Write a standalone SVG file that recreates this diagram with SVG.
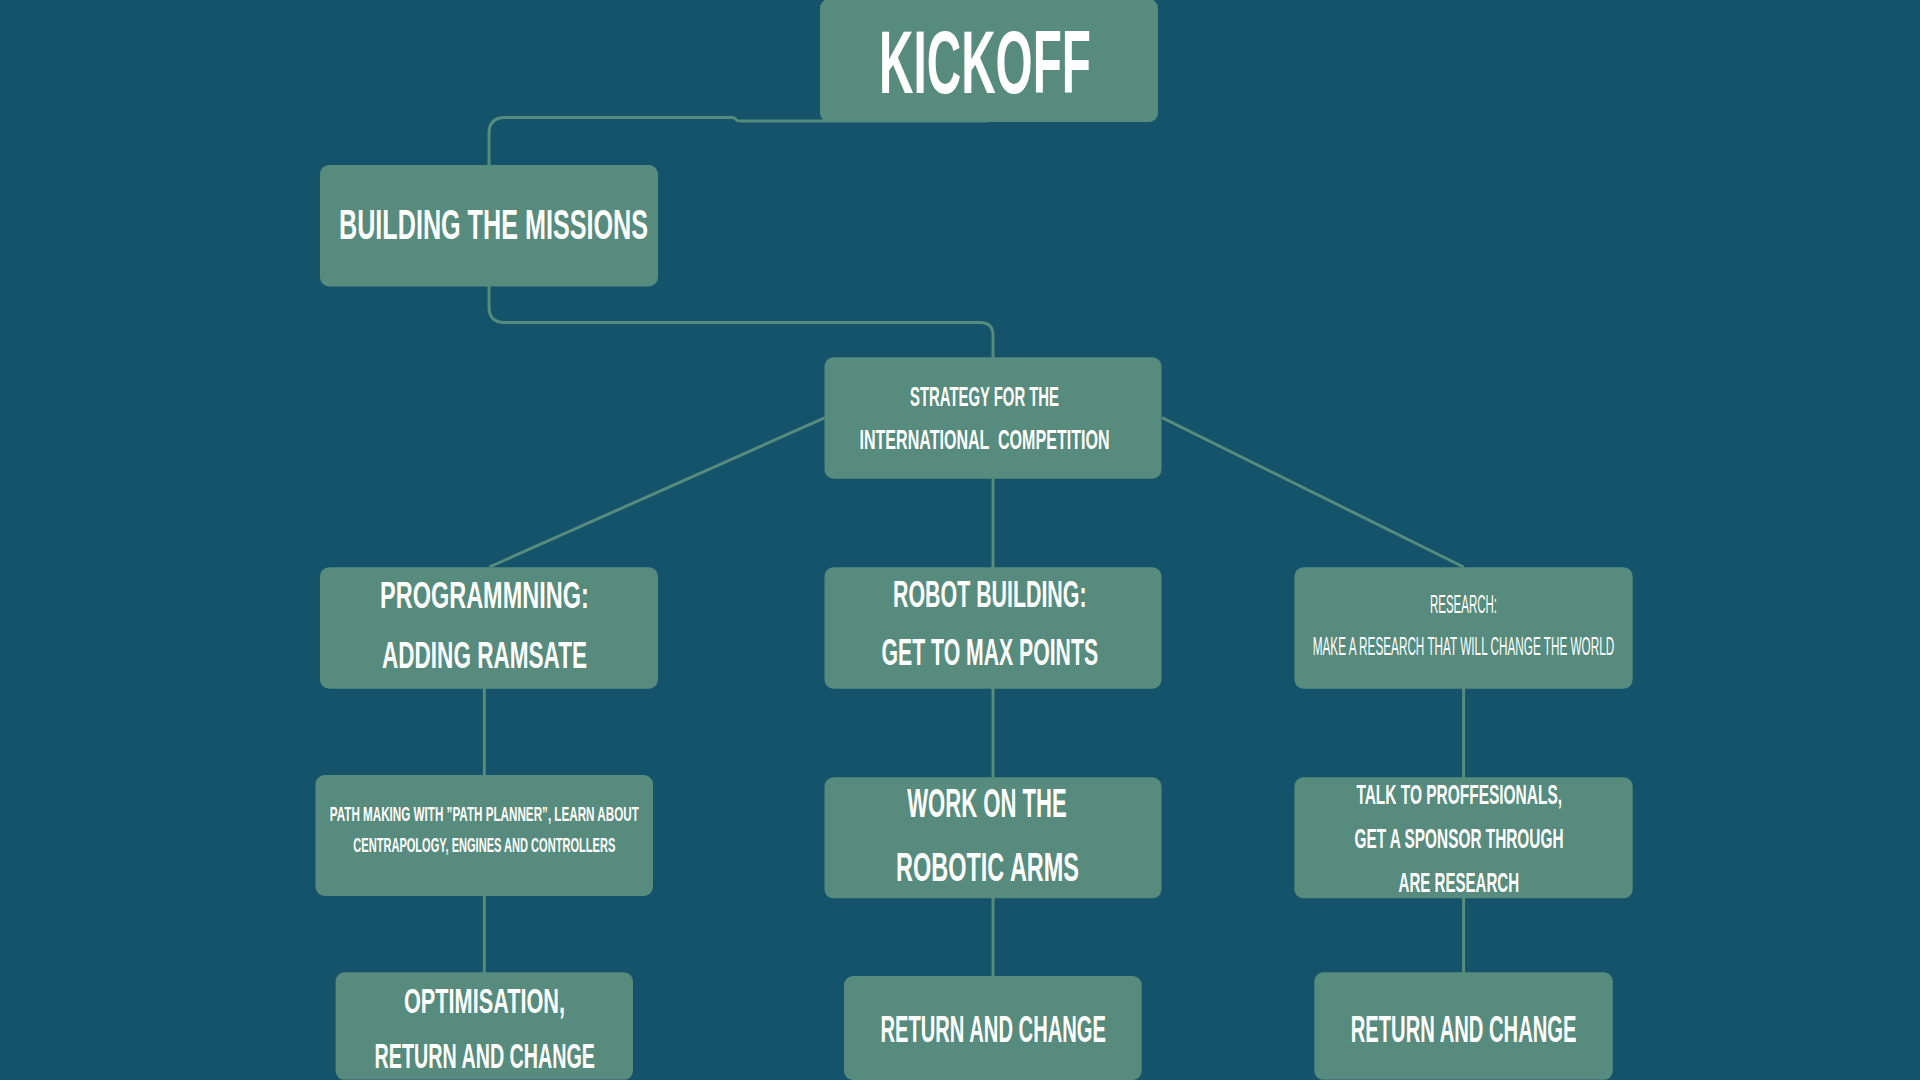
<svg xmlns="http://www.w3.org/2000/svg" width="1920" height="1080" viewBox="0 0 1920 1080">
<style>
.bg{fill:#14536A}
.box{fill:#568B7D}
.lnk{fill:none;stroke:#568B7D;stroke-width:3;stroke-linecap:butt}
text{fill:#FFFFFF;font-family:"Liberation Sans Narrow","Liberation Sans","DejaVu Sans Condensed",sans-serif;font-weight:bold;text-anchor:middle}
.lt{font-weight:normal}
</style>
<rect class="bg" x="0" y="0" width="1920" height="1080"/>
<g id="connectors">
<path class="lnk" d="M 988 121 H 741 Q 737 121 736 119.5 Q 735 117.5 731 117.5 H 505 Q 489 117.5 489 133.5 V 166"/>
<path class="lnk" d="M 489 286 V 307 Q 489 322.5 505 322.5 H 980 Q 993 322.5 993 335.5 V 358"/>
<line class="lnk" x1="825" y1="417.7" x2="489.4" y2="567"/>
<line class="lnk" x1="993" y1="478" x2="993" y2="568"/>
<line class="lnk" x1="1162" y1="417.7" x2="1463.6" y2="567"/>
<line class="lnk" x1="484.3" y1="688" x2="484.3" y2="776"/>
<line class="lnk" x1="484.3" y1="895" x2="484.3" y2="973"/>
<line class="lnk" x1="993" y1="688" x2="993" y2="778"/>
<line class="lnk" x1="993" y1="897" x2="993" y2="977"/>
<line class="lnk" x1="1463.6" y1="688" x2="1463.6" y2="778"/>
<line class="lnk" x1="1463.6" y1="897" x2="1463.6" y2="973"/>
</g>
<g id="kickoff">
<rect class="box" x="820" y="-1" width="338" height="123" rx="9"/>
<text x="985" y="93" font-size="88.7" textLength="212" lengthAdjust="spacingAndGlyphs">KICKOFF</text>
</g>
<g id="building">
<rect class="box" x="320" y="165" width="338" height="121.5" rx="9"/>
<text x="493.5" y="239" font-size="42" textLength="309" lengthAdjust="spacingAndGlyphs">BUILDING THE MISSIONS</text>
</g>
<g id="strategy">
<rect class="box" x="824.5" y="357.3" width="337" height="121.4" rx="9"/>
<text x="984.5" y="406" font-size="27.6" textLength="149" lengthAdjust="spacingAndGlyphs">STRATEGY FOR THE</text>
<text x="984.5" y="449" font-size="27.6" textLength="250" lengthAdjust="spacingAndGlyphs" xml:space="preserve">INTERNATIONAL  COMPETITION</text>
</g>
<g id="programming">
<rect class="box" x="320" y="567.3" width="338" height="121.4" rx="9"/>
<text x="484.4" y="608" font-size="37.8" textLength="208.7" lengthAdjust="spacingAndGlyphs">PROGRAMMNING:</text>
<text x="484.5" y="668" font-size="37.8" textLength="205" lengthAdjust="spacingAndGlyphs">ADDING RAMSATE</text>
</g>
<g id="robot-building">
<rect class="box" x="824.5" y="567.3" width="337" height="121.4" rx="9"/>
<text x="989.8" y="606.7" font-size="37.8" textLength="193.5" lengthAdjust="spacingAndGlyphs">ROBOT BUILDING:</text>
<text x="989.8" y="665" font-size="37.8" textLength="216.5" lengthAdjust="spacingAndGlyphs">GET TO MAX POINTS</text>
</g>
<g id="research">
<rect class="box" x="1294.4" y="567.3" width="338.3" height="121.4" rx="9"/>
<text class="lt" x="1463.5" y="612.7" font-size="26" textLength="67" lengthAdjust="spacingAndGlyphs">RESEARCH:</text>
<text class="lt" x="1463.5" y="654.7" font-size="26" textLength="301.5" lengthAdjust="spacingAndGlyphs">MAKE A RESEARCH THAT WILL CHANGE THE WORLD</text>
</g>
<g id="path-making">
<rect class="box" x="315.5" y="775" width="337.5" height="121" rx="9"/>
<text x="484.3" y="821" font-size="19.4" textLength="309" lengthAdjust="spacingAndGlyphs">PATH MAKING WITH ”PATH PLANNER”, LEARN ABOUT</text>
<text x="484.3" y="852" font-size="19.4" textLength="262" lengthAdjust="spacingAndGlyphs">CENTRAPOLOGY, ENGINES AND CONTROLLERS</text>
</g>
<g id="work-on-arms">
<rect class="box" x="824.5" y="777.3" width="337" height="121" rx="9"/>
<text x="987" y="816.7" font-size="40.7" textLength="159.6" lengthAdjust="spacingAndGlyphs">WORK ON THE</text>
<text x="987.5" y="881" font-size="40.7" textLength="183" lengthAdjust="spacingAndGlyphs">ROBOTIC ARMS</text>
</g>
<g id="talk-professionals">
<rect class="box" x="1294.4" y="777.3" width="338.3" height="121" rx="9"/>
<text x="1459.2" y="804" font-size="28.3" textLength="205.6" lengthAdjust="spacingAndGlyphs">TALK TO PROFFESIONALS,</text>
<text x="1459" y="848" font-size="28.3" textLength="209" lengthAdjust="spacingAndGlyphs">GET A SPONSOR THROUGH</text>
<text x="1458.8" y="892" font-size="28.3" textLength="120.5" lengthAdjust="spacingAndGlyphs">ARE RESEARCH</text>
</g>
<g id="optimisation">
<rect class="box" x="335.6" y="972.3" width="297.4" height="107.5" rx="9"/>
<text x="484.5" y="1013" font-size="35" textLength="161" lengthAdjust="spacingAndGlyphs">OPTIMISATION,</text>
<text x="484.8" y="1068" font-size="35" textLength="220.4" lengthAdjust="spacingAndGlyphs">RETURN AND CHANGE</text>
</g>
<g id="return-center">
<rect class="box" x="844" y="976" width="297.7" height="104" rx="9"/>
<text x="993.2" y="1041.7" font-size="36.3" textLength="225.6" lengthAdjust="spacingAndGlyphs">RETURN AND CHANGE</text>
</g>
<g id="return-right">
<rect class="box" x="1314.3" y="972.3" width="298.5" height="107.5" rx="9"/>
<text x="1463.6" y="1041.7" font-size="36.3" textLength="225.8" lengthAdjust="spacingAndGlyphs">RETURN AND CHANGE</text>
</g>
</svg>
